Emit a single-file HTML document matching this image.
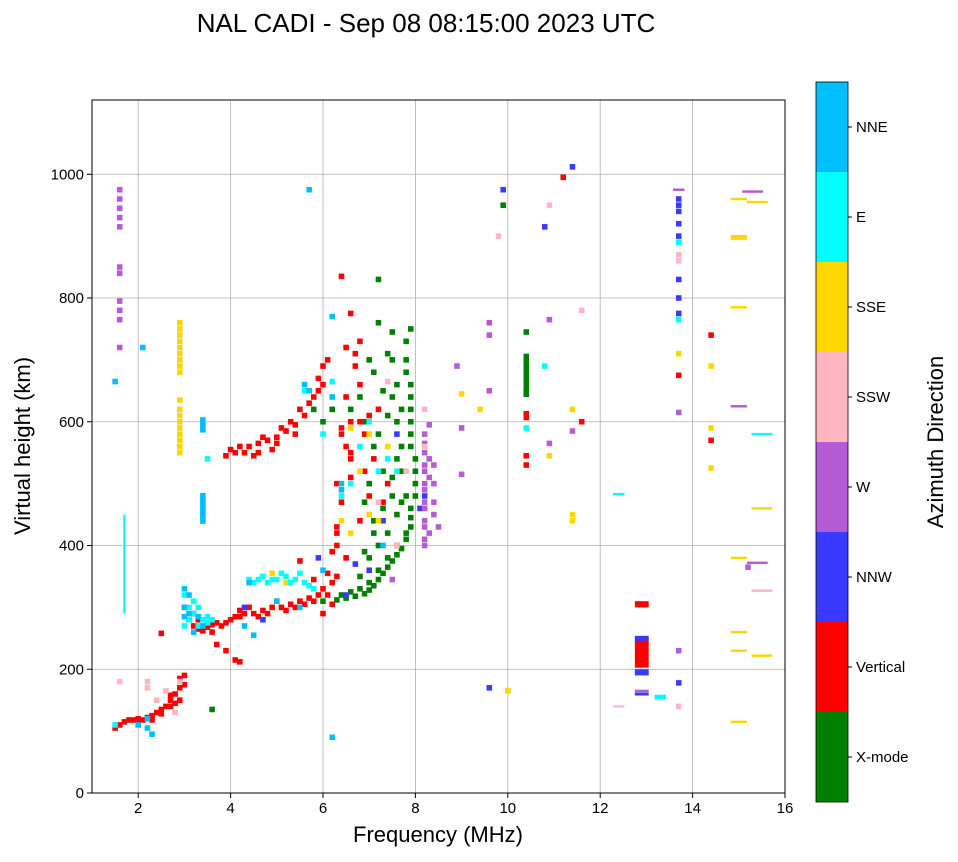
<!DOCTYPE html>
<html><head><meta charset="utf-8"><style>
body{margin:0;background:#fff;font-family:"Liberation Sans",sans-serif}
svg text{font-family:"Liberation Sans",sans-serif}
</style></head><body>
<svg id="chart" width="958" height="857" xmlns="http://www.w3.org/2000/svg">
<text x="426" y="32" text-anchor="middle" font-size="26">NAL CADI - Sep 08 08:15:00 2023 UTC</text>
<g id="grid"></g>
<g id="marks"></g>
<rect x="92" y="100" width="693" height="693" fill="none" stroke="#000" stroke-width="1"/>
<g id="axes"></g>
<text x="438" y="842" text-anchor="middle" font-size="22">Frequency (MHz)</text>
<text x="30" y="446" text-anchor="middle" font-size="22" transform="rotate(-90 30 446)">Virtual height (km)</text>
<g id="cbar"></g>
<text x="943" y="442" text-anchor="middle" font-size="22" transform="rotate(-90 943 442)">Azimuth Direction</text>
</svg>
<script>
const xTicks=[2,4,6,8,10,12,14,16];
const yTicks=[0,200,400,600,800,1000];
const modeNames=["X-mode","Vertical","NNW","W","SSW","SSE","E","NNE"];
const modeColors=["#008000","#ff0000","#3a3aff","#b65bd6","#ffb6c1","#ffd700","#00ffff","#00bfff"];
// [freq MHz, height km, widthMHz?, heightKm?]
const vertical=[[1.5,105],[1.6,110],[1.7,115],[1.8,118],[1.9,118],[2.0,120],[2.1,118],[2.2,122],[2.3,125],[2.4,130],[2.5,135],[2.6,140],[2.7,150],[2.8,160],[2.9,170],[3.0,175],[2.9,150],[2.7,140],[2.0,112],[2.3,118],[2.5,128],[2.7,158],[2.8,145],[2.9,185],[3.0,190],
[3.0,300],[3.1,280],[3.2,270],[3.3,265],[3.4,262],[3.5,268],[3.6,272],[3.7,275],[3.8,270],[3.9,275],[4.0,280],[4.1,285],[4.2,285],[4.3,290],[4.5,290],[4.7,295],[4.9,300],[5.1,300],[5.3,305],[5.5,310],[5.7,315],[5.9,320],[6.0,330],[6.2,340],[6.3,350],[4.1,215],[4.2,212],[3.7,240],[3.9,230],[4.4,300],[4.8,290],[5.2,295],[5.6,305],[3.2,290],[3.3,280],[4.6,285],[5.0,310],[5.4,300],[5.8,310],[6.1,320],[4.2,295],[3.6,260],[5.8,345],[6.1,355],[5.5,375],
[3.9,545],[4.0,555],[4.2,560],[4.4,560],[4.6,565],[4.8,570],[5.0,575],[5.2,585],[5.4,595],[5.6,610],[5.8,640],[5.9,670],[6.0,690],[6.1,700],[4.5,545],[4.9,555],[4.3,550],[5.1,590],[4.1,550],[4.7,575],[5.3,600],[5.5,620],[5.7,630],[5.9,650],[6.0,660],[5.0,565],[4.6,550],[5.4,580],
[6.3,430],[6.3,500],[6.4,580],[6.6,540],[6.6,510],[6.8,600],[6.9,520],[6.5,560],[6.5,720],[6.7,710],[6.6,775],[6.4,835],[7.0,480],[7.2,620],[7.4,500],[6.3,400],[6.5,380],[6.8,440],[6.4,590],[6.6,550],[6.3,420],[6.5,640],[6.7,690],[6.9,580],[7.1,540],[6.4,470],[6.2,390],[6.6,600],[6.8,660],[7.3,470],[7.0,610],[6.8,730],
[10.4,530],[10.4,545],[10.4,610,0.12,15],[11.2,995],[11.6,600],[13.7,675],[14.4,570],[14.4,740],[12.9,305,0.3,10],[12.9,225,0.3,45],[2.5,258],[6.0,290],[6.2,305]];
const xmode=[[6.0,310],[6.3,312],[6.5,315],[6.7,318],[6.9,322],[7.0,328],[7.1,335],[7.2,345],[7.3,355],[7.4,365],[7.5,375],[7.6,385],[7.7,395],[7.8,410],[7.9,430],[7.9,460],[8.0,500],[8.0,540],[7.9,580],[7.9,620],[7.9,660],[7.8,700],[7.5,745],[7.2,760],[7.0,700],[6.8,640],[6.6,620],[7.1,560],[7.3,520],[7.5,480],[7.6,450],[7.4,420],[7.2,400],[7.6,600],[7.7,560],[6.9,470],[7.1,440],[7.3,650],[7.5,700],[10.4,675,0.12,70],[10.4,745],[9.9,950],[3.6,135],[7.2,830],[5.8,620],[6.0,600],[6.2,620],[6.8,350],[7.0,380],[7.8,480],[7.7,520],
[6.4,320],[6.6,325],[6.8,330],[7.0,340],[7.2,360],[7.4,380],[7.6,400],[7.8,420],[7.9,445],[8.0,480],[8.0,520],[7.9,560],[7.9,600],[7.9,640],[7.8,680],[7.7,620],[7.6,540],[7.5,510],[7.3,460],[7.1,420],[6.9,390],[7.0,500],[7.2,580],[7.4,610],[7.6,660],[7.8,730],[7.9,750],[7.4,710],[7.1,680],[6.9,600],[7.5,640],[7.7,470]];
const nnw=[[4.7,280],[5.9,380],[9.6,170],[9.9,975],[11.4,1012],[13.7,950],[13.7,920],[13.7,830],[13.7,800],[13.7,775],[13.7,900],[12.9,250,0.3,8],[12.9,195,0.3,10],[13.7,178],[8.2,480],[8.1,460],[7.6,580],[6.7,370],[10.8,915],[12.9,160,0.3,5],[7.0,360],[6.5,320],[13.7,940],[13.7,960],[4.3,300],[7.3,440]];
const west=[[1.6,975],[1.6,960],[1.6,945],[1.6,930],[1.6,915],[1.6,850],[1.6,840],[1.6,795],[1.6,780],[1.6,765],[1.6,720],[8.2,400],[8.2,430],[8.2,460],[8.2,490],[8.2,520],[8.2,550],[8.2,580],[8.3,540],[8.4,500],[8.4,470],[8.5,430],[8.9,690],[9.0,590],[9.0,515],[9.6,740],[9.6,760],[9.6,650],[10.9,765],[10.9,565],[11.4,585],[13.7,975,0.25,4],[13.7,615],[13.7,230],[15.0,625,0.35,4],[15.3,972,0.45,4],[15.2,365],[15.4,372,0.45,4],[12.9,165,0.3,4],[7.5,345],[8.2,410],[8.2,440],[8.2,470],[8.2,500],[8.2,530],[8.2,565],[8.3,595],[8.3,420],[8.4,450],[8.3,510],[8.4,530]];
const ssw=[[1.6,180],[2.2,180],[2.2,170],[2.9,180],[7.2,470],[7.6,400],[7.8,520],[8.2,620],[8.2,560],[9.8,900],[10.9,950],[11.6,780],[13.7,870],[13.7,860],[15.5,327,0.45,4],[12.4,140,0.25,3],[13.7,140],[7.4,665],[2.4,150],[2.6,165],[2.8,130]];
const sse=[[2.9,690],[2.9,700],[2.9,710],[2.9,720],[2.9,730],[2.9,740],[2.9,760],[2.9,550],[2.9,560],[2.9,570],[2.9,580],[2.9,600],[2.9,620],[2.9,635],[6.6,590],[7.0,580],[7.2,440],[7.4,560],[6.8,520],[9.0,645],[9.4,620],[10.0,165],[10.9,545],[11.4,440],[11.4,450],[11.4,620],[13.7,710],[14.4,690],[14.4,590],[14.4,525],[15.0,960,0.35,4],[15.0,898,0.35,8],[15.0,785,0.35,4],[15.0,380,0.35,4],[15.0,260,0.35,4],[15.0,230,0.35,4],[15.0,115,0.35,4],[15.5,460,0.45,4],[15.4,955,0.45,4],[15.5,222,0.45,4],[4.9,355],[5.2,340],[6.4,440],[2.9,680],[2.9,750],[2.9,590],[2.9,610],[6.6,420],[7.0,450]];
const east=[[1.5,110],[1.7,370,0.05,160],[3.0,270],[3.1,280],[3.2,290],[3.3,300],[3.4,280],[3.5,275],[3.6,280],[4.6,345],[4.8,340],[5.0,345],[5.2,350],[5.4,345],[5.6,340],[5.8,330],[3.0,320],[3.5,540],[6.4,480],[6.8,560],[7.0,600],[7.4,540],[7.6,520],[13.7,765],[13.7,890],[15.5,580,0.45,4],[10.4,590],[10.8,690],[12.4,483,0.25,4],[13.3,155,0.25,8],[6.2,665],[5.6,650],[6.0,580],[4.4,345],[3.1,300],[3.3,270],[3.5,285],[4.5,340],[4.7,350],[4.9,345],[5.1,355],[5.3,340],[5.5,355],[5.7,335],[3.2,310],[6.6,500],[7.2,520]];
const nne=[[3.0,330],[3.0,300],[3.1,290],[3.4,460,0.12,50],[3.4,595,0.12,25],[2.1,720],[2.2,120],[2.3,95],[4.3,270],[4.5,255],[5.7,975],[6.2,90],[6.4,490],[6.2,770],[6.0,360],[4.4,340],[5.0,310],[5.5,300],[7.3,400],[5.6,660],[1.5,665],[3.2,260],[3.4,270],[3.0,285],[3.1,320],[3.3,285],[2.0,110],[2.2,105],[5.7,650],[6.4,500],[6.2,640]];
const series=[xmode,vertical,nnw,west,ssw,sse,east,nne];
const NS="http://www.w3.org/2000/svg";
const X0=92,X1=785,Y0=793,Y1=100;
function xs(f){return X0+(f-1)/15*(X1-X0);}
function ys(h){return Y0-h/1120*(Y0-Y1);}
function mk(t,a,p){const e=document.createElementNS(NS,t);for(const k in a)e.setAttribute(k,a[k]);p.appendChild(e);return e;}
const grid=document.getElementById('grid'),axes=document.getElementById('axes');
xTicks.forEach(t=>{const x=xs(t);
 const l=mk('line',{x1:x,x2:x,y1:Y1,y2:Y0,stroke:'#b0b0b0','stroke-width':0.8},grid);
 
 
 mk('line',{x1:x,x2:x,y1:Y0,y2:Y0+5,stroke:'#000'},axes);
 const tx=mk('text',{x:x,y:Y0+20,'text-anchor':'middle','font-size':15},axes);tx.textContent=t;
 
 });
yTicks.forEach(t=>{const y=ys(t);
 const l=mk('line',{x1:X0,x2:X1,y1:y,y2:y,stroke:'#b0b0b0','stroke-width':0.8},grid);
 
 
 mk('line',{x1:X0-5,x2:X0,y1:y,y2:y,stroke:'#000'},axes);
 const tx=mk('text',{x:X0-8,y:y+5,'text-anchor':'end','font-size':15},axes);tx.textContent=t;
 
 });
const marks=document.getElementById('marks');
series.forEach((s,i)=>s.forEach(p=>{const w=p[2]||0.12,h=p[3]||9;
 const x=xs(p[0]-w/2),x2=xs(p[0]+w/2),y=ys(p[1]+h/2),y2=ys(p[1]-h/2);
 const r=mk('rect',{x:x,y:y,width:x2-x,height:Math.max(2,y2-y),fill:modeColors[i]},marks);
 
 }));
const cb=document.getElementById('cbar');const CT=82,CB=802,seg=(CB-CT)/8;
modeNames.forEach((n,i)=>{const y=CB-(i+1)*seg;
 const r=mk('rect',{x:816,y:y,width:32,height:seg,fill:modeColors[i]},cb);
 
 
 mk('line',{x1:848,x2:852,y1:y+seg/2,y2:y+seg/2,stroke:'#000'},cb);
 const t=mk('text',{x:856,y:y+seg/2+5,'font-size':15},cb);t.textContent=n;
 
 });
mk('rect',{x:816,y:CT,width:32,height:CB-CT,fill:'none',stroke:'#000','stroke-width':0.8},cb);
</script>
</body></html>
